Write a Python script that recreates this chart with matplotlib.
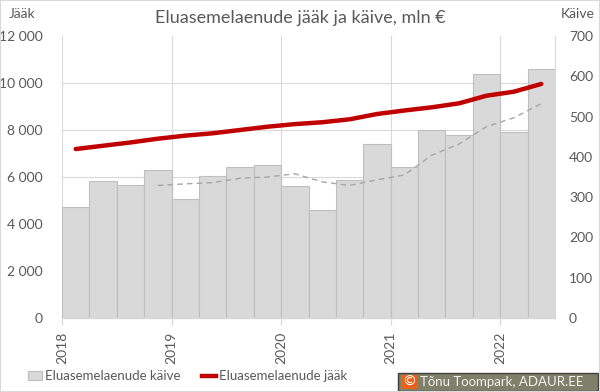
import matplotlib.pyplot as plt
import matplotlib.patches as mpatches
from matplotlib.lines import Line2D
from matplotlib.ticker import FuncFormatter
import numpy as np

plt.rcParams['font.family'] = ['Lato', 'DejaVu Sans']

quarters = ['2018Q1', '2018Q2', '2018Q3', '2018Q4', '2019Q1', '2019Q2', '2019Q3', '2019Q4',
            '2020Q1', '2020Q2', '2020Q3', '2020Q4', '2021Q1', '2021Q2', '2021Q3', '2021Q4',
            '2022Q1', '2022Q2']
years = ['2018', '2019', '2020', '2021', '2022']
# kaive (turnover), mln EUR - right axis
kaive = [275, 340, 331, 367, 295, 352, 375, 379, 328, 268, 342, 433,
         375, 466, 454, 605, 461, 617]
# 4-quarter moving average of kaive (starts 2018Q4)
kaive_ma = [329, 333, 336, 347, 350, 358, 338, 329, 343, 355, 404, 432, 475, 497, 532]
# jaak (outstanding), mln EUR - left axis
jaak = [7190, 7330, 7470, 7630, 7760, 7860, 8000, 8140, 8250, 8330, 8455, 8680,
        8830, 8965, 9135, 9460, 9630, 9960]

txt = '#595959'
grid = '#d9d9d9'

fig = plt.figure(figsize=(6, 3.92), dpi=100)
ax = fig.add_axes([62/600, 74/392, 493/600, 282/392])
ax2 = ax.twinx()

x = np.arange(len(quarters))
ax.bar(x, kaive, width=1.0, color='#d9d9d9', edgecolor='#bfbfbf', linewidth=0.8, zorder=2)
ax.plot(x[3:], kaive_ma, color='#a6a6a6', linewidth=1.0, dashes=(4, 3), zorder=3)
ax.set_ylim(0, 700)
ax.set_xlim(-0.5, len(quarters) - 0.5)
ax.yaxis.tick_right()
ax.set_yticks(np.arange(0, 701, 100))
ax.set_yticks(np.arange(0, 12001, 2000) * 700 / 12000, minor=True)
ax.yaxis.grid(True, which='minor', color=grid, linewidth=0.8, zorder=0)
ax.tick_params(axis='y', which='both', length=0, colors=txt, labelsize=10, pad=10)

# vertical year gridlines
ax.set_xticks(np.arange(0, len(quarters), 4) - 0.5)
ax.set_xticklabels(years, rotation=90, color=txt, fontsize=10)
ax.tick_params(axis='x', length=5, color=grid, pad=5)
ax.xaxis.grid(True, color=grid, linewidth=0.8, zorder=0)
ax.set_axisbelow(True)
for s in ['top', 'left']:
    ax.spines[s].set_visible(False)
ax.spines['right'].set_color(grid)
ax.spines['bottom'].set_color(grid)
ax.spines['bottom'].set_linewidth(1.0)

ax2.plot(x, jaak, color='#c00000', linewidth=3.2, solid_capstyle='round', zorder=5)
ax2.set_ylim(0, 12000)
ax2.yaxis.tick_left()
ax2.set_yticks(np.arange(0, 12001, 2000))
ax2.yaxis.set_major_formatter(FuncFormatter(lambda v, p: f'{int(v):,}'.replace(',', ' ')))
ax2.tick_params(axis='y', length=0, colors=txt, labelsize=10, pad=14)
for s in ax2.spines.values():
    s.set_visible(False)

fig.text(0.5, 1 - 18/392, 'Eluasemelaenude jääk ja käive, mln €', ha='center', va='center',
         fontsize=13, color=txt)
fig.text(9/600, 1 - 14/392, 'Jääk', ha='left', va='center', fontsize=10, color=txt)
fig.text(595/600, 1 - 14/392, 'Käive', ha='right', va='center', fontsize=10, color=txt)

handles = [mpatches.Patch(facecolor='#d9d9d9', edgecolor='#bfbfbf', linewidth=0.8),
           Line2D([0], [0], color='#c00000', linewidth=3.2)]
fig.legend(handles, ['Eluasemelaenude käive', 'Eluasemelaenude jääk'], loc='lower left',
           bbox_to_anchor=(16/600, -2/392), ncol=2, frameon=False, fontsize=9.5,
           handlelength=1.1, handletextpad=0.2, columnspacing=1.6, labelcolor=txt)

# copyright box
fig.patches.append(mpatches.Rectangle((398/600, 1/392), 200/600, 18/392, transform=fig.transFigure,
                                      facecolor='#7f7f6a', edgecolor='#3f3f3f', linewidth=1))
fig.patches.append(mpatches.Rectangle((401/600, 3/392), 16/600, 14/392, transform=fig.transFigure,
                                      facecolor='#e8621c', edgecolor='none'))
fig.text(409/600, 10/392, '©', ha='center', va='center', fontsize=10, color='white',
         family=['DejaVu Sans'])
fig.text(420/600, 10/392, 'Tõnu Toompark, ADAUR.EE', ha='left', va='center', fontsize=9.5,
         color='#f2f2f2')

fig.patches.append(mpatches.Rectangle((0, 0), 1, 1, transform=fig.transFigure, fill=False,
                                      edgecolor=grid, linewidth=1.5))

fig.savefig('out.png', dpi=100)
